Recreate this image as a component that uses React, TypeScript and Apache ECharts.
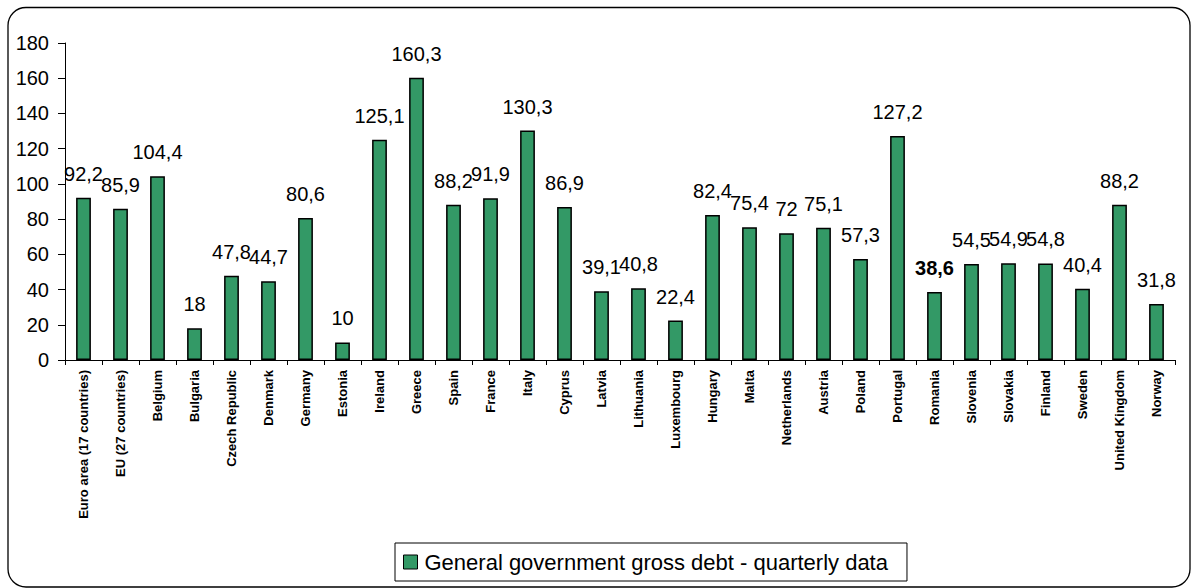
import React, { useEffect, useRef } from "react";
import * as echarts from "echarts";

const categories = [
  "Euro area (17 countries)", "EU (27 countries)", "Belgium", "Bulgaria", "Czech Republic",
  "Denmark", "Germany", "Estonia", "Ireland", "Greece", "Spain", "France", "Italy", "Cyprus",
  "Latvia", "Lithuania", "Luxembourg", "Hungary", "Malta", "Netherlands", "Austria", "Poland",
  "Portugal", "Romania", "Slovenia", "Slovakia", "Finland", "Sweden", "United Kingdom", "Norway",
];
const debtValues = [
  92.2, 85.9, 104.4, 18, 47.8, 44.7, 80.6, 10, 125.1, 160.3, 88.2, 91.9, 130.3, 86.9,
  39.1, 40.8, 22.4, 82.4, 75.4, 72, 75.1, 57.3, 127.2, 38.6, 54.5, 54.9, 54.8, 40.4, 88.2, 31.8,
];
const yTicks = [0, 20, 40, 60, 80, 100, 120, 140, 160, 180];
const highlighted = "Romania";
const seriesName = "General government gross debt - quarterly data";

const FONT = "Liberation Sans, Arial, sans-serif";

export default function App() {
  const ref = useRef<HTMLDivElement>(null);
  useEffect(() => {
    if (!ref.current) return;
    const chart = echarts.init(ref.current, null, { renderer: "svg" });
    const fmt = (v: number) => String(v).replace(".", ",");
    chart.setOption({
      animation: false,
      backgroundColor: "#ffffff",
      graphic: [
        {
          type: "rect",
          shape: { x: 8, y: 7.5, width: 1182, height: 579.5, r: 18 },
          style: { fill: "none", stroke: "#000", lineWidth: 1.3 },
          silent: true,
          z: -1,
        },
      ],
      legend: {
        left: 395,
        top: 543,
        padding: [8, 19, 8, 8],
        borderColor: "#000",
        borderWidth: 1,
        itemWidth: 14,
        itemHeight: 14,
        itemGap: 4,
        icon: "rect",
        textStyle: { fontFamily: FONT, fontSize: 22, color: "#000", padding: [0, 0, 0, 2] },
        data: [{ name: seriesName, itemStyle: { borderColor: "#000", borderWidth: 1 } }],
      },
      grid: { left: 65, right: 17, top: 43, bottom: 228, containLabel: false },
      xAxis: {
        type: "category",
        data: categories,
        axisLine: { lineStyle: { color: "#000", width: 1 } },
        axisTick: { show: true, alignWithLabel: false, length: 5, lineStyle: { color: "#000" } },
        axisLabel: {
          interval: 0,
          rotate: 90,
          margin: 10,
          fontFamily: FONT,
          fontWeight: "bold",
          fontSize: 13,
          color: "#000",
        },
      },
      yAxis: {
        type: "value",
        min: 0,
        max: 180,
        interval: 20,
        axisLine: { show: true, lineStyle: { color: "#000", width: 1 } },
        axisTick: { show: true, length: 7, lineStyle: { color: "#000" } },
        splitLine: { show: false },
        axisLabel: {
          fontFamily: FONT,
          fontSize: 20,
          color: "#000",
          margin: 16,
          formatter: (v: number) => (yTicks.includes(v) ? String(v) : ""),
        },
      },
      series: [
        {
          name: seriesName,
          type: "bar",
          barWidth: "40%",
          itemStyle: { color: "#339966", borderColor: "#000", borderWidth: 1.5 },
          data: debtValues.map((v, i) => ({
            value: v,
            label: {
              show: true,
              position: "top",
              distance: 14,
              formatter: fmt(v),
              fontFamily: FONT,
              fontSize: 20,
              color: "#000",
              fontWeight: categories[i] === highlighted ? "bold" : "normal",
            },
          })),
        },
      ],
    });
    return () => chart.dispose();
  }, []);
  return (
    <div
      ref={ref}
      style={{ position: "fixed", left: 0, top: 0, width: 1192, height: 588 }}
    />
  );
}
